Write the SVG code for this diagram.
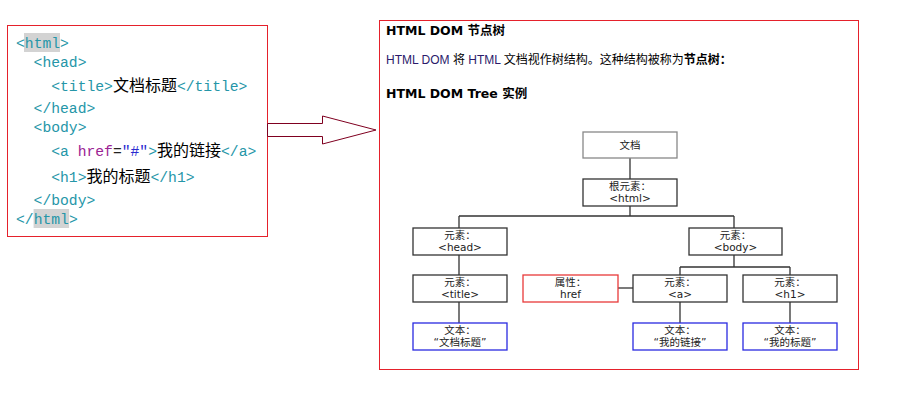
<svg xmlns="http://www.w3.org/2000/svg" width="918" height="419" viewBox="0 0 918 419">
<style>
.code{font-family:"Liberation Mono","DejaVu Sans Mono",monospace;font-size:14.7px;fill:#2596a8}
.cjk{font-family:"Noto Sans CJK SC",sans-serif;font-size:16px;fill:#000}
.attr{fill:#9b2393}
.str{fill:#2a2ad0}
.eq{fill:#222}
.hl{fill:#d3d3d3}
.h{font-family:"DejaVu Sans","Noto Sans CJK SC",sans-serif;font-size:12.5px;font-weight:bold;fill:#000}
.p{font-family:"Liberation Sans","Noto Sans CJK SC",sans-serif;font-size:12px;fill:#000}
.lnk{fill:#2b1b6b}
.n rect{fill:#fff;stroke:#333;stroke-width:1.3}
.n text{font-family:"DejaVu Sans","Noto Sans CJK SC",sans-serif;font-size:10.5px;fill:#222;text-anchor:middle}
.gray rect{stroke:#888}
.red rect{stroke:#e83a3a}
.blue rect{stroke:#2a2ae0}
#connectors path{fill:none;stroke:#333;stroke-width:1.3}
</style>

<!-- left code panel -->
<g id="code">
<rect x="7.5" y="25.5" width="260" height="211" fill="#fff" stroke="#e5212b" stroke-width="1"/>
<rect class="hl" x="24" y="33" width="36" height="19"/>
<rect class="hl" x="33.6" y="209" width="35.5" height="19"/>
<text class="code" x="16" y="48">&lt;html&gt;</text>
<text class="code" x="33.6" y="67">&lt;head&gt;</text>
<text class="code" x="51.2" y="91">&lt;title&gt;<tspan class="cjk">文档标题</tspan>&lt;/title&gt;</text>
<text class="code" x="33.6" y="113">&lt;/head&gt;</text>
<text class="code" x="33.6" y="132">&lt;body&gt;</text>
<text class="code" x="51.2" y="156">&lt;a <tspan class="attr">href</tspan><tspan class="eq">=</tspan><tspan class="str">"#"</tspan>&gt;<tspan class="cjk">我的链接</tspan>&lt;/a&gt;</text>
<text class="code" x="51.2" y="182">&lt;h1&gt;<tspan class="cjk">我的标题</tspan>&lt;/h1&gt;</text>
<text class="code" x="33.6" y="205">&lt;/body&gt;</text>
<text class="code" x="16" y="224">&lt;/html&gt;</text>
</g>

<!-- big arrow -->
<g id="arrow">
<polygon points="267.5,123.5 322.5,123.5 322.5,116 376,130 322.5,144 322.5,136.5 267.5,136.5" fill="#fff" stroke="#7f0020" stroke-width="1"/>
</g>

<!-- right panel -->
<g id="panel">
<rect x="379.5" y="20.5" width="479" height="349" fill="#fff" stroke="#e5212b" stroke-width="1"/>
<text class="h" x="386" y="35">HTML DOM 节点树</text>
<text class="p" x="386" y="64"><tspan class="lnk">HTML DOM</tspan> 将 <tspan class="lnk">HTML</tspan> 文档视作树结构。这种结构被称为<tspan font-weight="bold">节点树：</tspan></text>
<text class="h" x="386" y="98">HTML DOM Tree 实例</text>
</g>

<g id="connectors">
<path d="M630,158V179"/>
<path d="M630,206V216M459,216H734M459,216V228M734,216V228"/>
<path d="M459,255V275M459,302V323"/>
<path d="M734,255V267M680,267H790M680,267V275M790,267V275"/>
<path d="M618,288H633"/>
<path d="M680,302V323M790,302V323"/>
</g>

<g id="document" class="n gray"><rect x="583" y="132" width="94" height="26"/><text x="630" y="149">文档</text></g>
<g id="root" class="n"><rect x="583" y="179" width="94" height="27"/><text x="630" y="190">根元素：</text><text x="630" y="202">&lt;html&gt;</text></g>
<g id="head" class="n"><rect x="413" y="228" width="94" height="27"/><text x="460" y="239">元素：</text><text x="460" y="251">&lt;head&gt;</text></g>
<g id="body" class="n"><rect x="689" y="228" width="93" height="27"/><text x="735.5" y="239">元素：</text><text x="735.5" y="251">&lt;body&gt;</text></g>
<g id="title" class="n"><rect x="413" y="275" width="94" height="27"/><text x="460" y="286">元素：</text><text x="460" y="298">&lt;title&gt;</text></g>
<g id="href" class="n red"><rect x="523" y="275" width="95" height="27"/><text x="570.5" y="286">属性：</text><text x="570.5" y="298">href</text></g>
<g id="a" class="n"><rect x="633" y="275" width="94" height="27"/><text x="680" y="286">元素：</text><text x="680" y="298">&lt;a&gt;</text></g>
<g id="h1" class="n"><rect x="743" y="275" width="94" height="27"/><text x="790" y="286">元素：</text><text x="790" y="298">&lt;h1&gt;</text></g>
<g id="text-title" class="n blue"><rect x="413" y="323" width="94" height="27"/><text x="460" y="334">文本：</text><text x="460" y="346">“文档标题”</text></g>
<g id="text-a" class="n blue"><rect x="633" y="323" width="94" height="27"/><text x="680" y="334">文本：</text><text x="680" y="346">“我的链接”</text></g>
<g id="text-h1" class="n blue"><rect x="743" y="323" width="94" height="27"/><text x="790" y="334">文本：</text><text x="790" y="346">“我的标题”</text></g>
</svg>
